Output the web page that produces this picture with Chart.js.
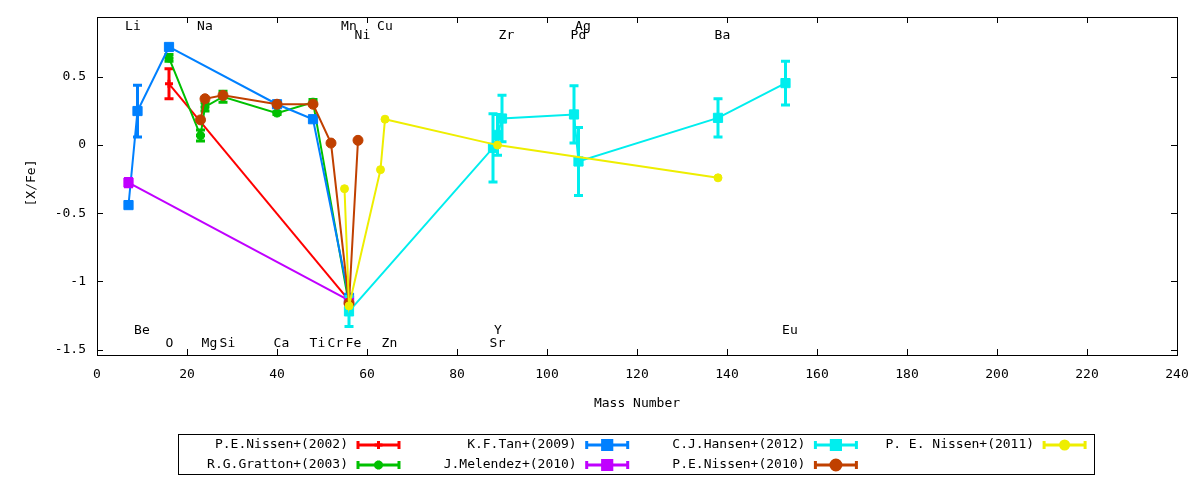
<!DOCTYPE html>
<html>
<head>
<meta charset="utf-8">
<script src="https://cdn.jsdelivr.net/npm/chart.js@4.4.1/dist/chart.umd.min.js"></script>
<style>html,body{margin:0;padding:0;background:#fff;}canvas{display:block;}</style>
</head>
<body>
<canvas id="c" width="1200" height="480"></canvas>
<script>
// ---------- axis ticks ----------
const xTickValues = [0, 20, 40, 60, 80, 100, 120, 140, 160, 180, 200, 220, 240];
const yTickValues = [-1.5, -1, -0.5, 0, 0.5];

// ---------- series (mass number, [X/Fe], error) ----------
const nissen2002Mass = [16, 56];
const nissen2002Val  = [0.45, -1.14];
const nissen2002Err  = [0.11, 0];

const gratton2003Mass = [16, 23, 24, 28, 40, 48, 56];
const gratton2003Val  = [0.64, 0.07, 0.28, 0.355, 0.235, 0.315, -1.17];
const gratton2003Err  = [0.025, 0.04, 0.03, 0.04, 0.01, 0.02, 0.02];

const tan2009Mass = [7, 9, 16, 40, 48, 56];
const tan2009Val  = [-0.44, 0.25, 0.72, 0.30, 0.19, -1.12];
const tan2009Err  = [0, 0.19, 0, 0, 0, 0];

const melendez2010Mass = [7, 56];
const melendez2010Val  = [-0.275, -1.14];
const melendez2010Err  = [0.03, 0];

const hansen2012Mass = [56, 88, 89, 90, 106, 107, 138, 153];
const hansen2012Val  = [-1.22, -0.02, 0.075, 0.195, 0.225, -0.12, 0.20, 0.455];
const hansen2012Err  = [0.11, 0.25, 0.15, 0.17, 0.21, 0.25, 0.14, 0.16];

const nissen2010Mass = [23, 24, 28, 40, 48, 52, 56, 58];
const nissen2010Val  = [0.185, 0.34, 0.365, 0.30, 0.30, 0.015, -1.16, 0.035];
const nissen2010Err  = [0, 0, 0, 0, 0, 0, 0, 0];

const nissen2011Mass = [55, 56, 63, 64, 89, 138];
const nissen2011Val  = [-0.32, -1.18, -0.18, 0.19, 0.0, -0.24];
const nissen2011Err  = [0, 0, 0, 0, 0, 0];

// ---------- element annotations ----------
const elementNames = ['Li','Na','Mn','Ni','Cu','Zr','Pd','Ag','Ba','Be','O','Mg','Si','Ca','Ti','Cr','Fe','Zn','Sr','Y','Eu'];
const elementMass  = [7, 23, 55, 58, 63, 90, 106, 107, 138, 9, 16, 24, 28, 40, 48, 52, 56, 64, 88, 89, 153];
const elementLevel = [0.87, 0.87, 0.87, 0.80, 0.87, 0.80, 0.80, 0.87, 0.80, -1.36, -1.46, -1.46, -1.46, -1.46, -1.46, -1.46, -1.46, -1.46, -1.46, -1.36, -1.36];

const FONT = '"DejaVu Sans Mono", "Liberation Mono", monospace';

function series(label, mass, val, err, color, style, radius, bw) {
  return {
    label: label,
    data: mass.map((m, i) => ({x: m, y: val[i]})),
    errors: err,
    borderColor: color,
    backgroundColor: color,
    pointBackgroundColor: color,
    pointBorderColor: color,
    pointStyle: style,
    pointRadius: radius,
    pointBorderWidth: bw,
    pointHoverRadius: radius,
    borderWidth: 2,
    showLine: true,
    fill: false,
    tension: 0
  };
}

const datasets = [
  series('P.E.Nissen+(2002)', nissen2002Mass, nissen2002Val, nissen2002Err, '#ff0000', 'cross', 4, 3),
  series('R.G.Gratton+(2003)', gratton2003Mass, gratton2003Val, gratton2003Err, '#00c000', 'star', 4.5, 3),
  series('K.F.Tan+(2009)', tan2009Mass, tan2009Val, tan2009Err, '#0080ff', 'rect', 6.5, 1),
  series('J.Melendez+(2010)', melendez2010Mass, melendez2010Val, melendez2010Err, '#c000ff', 'rect', 6.5, 1),
  series('C.J.Hansen+(2012)', hansen2012Mass, hansen2012Val, hansen2012Err, '#00eeee', 'rect', 6.5, 1),
  series('P.E.Nissen+(2010)', nissen2010Mass, nissen2010Val, nissen2010Err, '#c04000', 'circle', 5, 1),
  series('P. E. Nissen+(2011)', nissen2011Mass, nissen2011Val, nissen2011Err, '#eeee00', 'circle', 4, 1)
];
datasets.forEach((d, i) => { d.order = -i; });

const whiteBg = {
  id: 'whiteBg',
  beforeDraw(chart) {
    const ctx = chart.ctx;
    ctx.save();
    ctx.fillStyle = '#fff';
    ctx.fillRect(0, 0, chart.width, chart.height);
    ctx.restore();
  }
};

const errorBars = {
  id: 'errorBars',
  afterDatasetDraw(chart, args) {
    const ds = chart.data.datasets[args.index];
    if (!ds.errors) return;
    const ctx = chart.ctx;
    const xs = chart.scales.x, ys = chart.scales.y;
    ctx.save();
    ctx.strokeStyle = ds.borderColor;
    ctx.lineWidth = 3;
    ctx.lineCap = 'butt';
    ds.data.forEach((p, i) => {
      const e = ds.errors[i];
      if (!e) return;
      const px = xs.getPixelForValue(p.x);
      const yt = ys.getPixelForValue(p.y + e);
      const yb = ys.getPixelForValue(p.y - e);
      ctx.beginPath();
      ctx.moveTo(px, yt); ctx.lineTo(px, yb);
      ctx.moveTo(px - 4.5, yt); ctx.lineTo(px + 4.5, yt);
      ctx.moveTo(px - 4.5, yb); ctx.lineTo(px + 4.5, yb);
      ctx.stroke();
    });
    ctx.restore();
  }
};

const frame = {
  id: 'frame',
  afterDraw(chart) {
    const ctx = chart.ctx, a = chart.chartArea;
    const xs = chart.scales.x, ys = chart.scales.y;
    ctx.save();
    ctx.strokeStyle = '#000';
    ctx.lineWidth = 1;
    ctx.strokeRect(Math.round(a.left) + 0.5, Math.round(a.top) + 0.5, Math.round(a.right - a.left), Math.round(a.bottom - a.top));
    ctx.beginPath();
    xTickValues.forEach(v => {
      const px = Math.round(xs.getPixelForValue(v)) + 0.5;
      ctx.moveTo(px, a.bottom); ctx.lineTo(px, a.bottom - 6);
      ctx.moveTo(px, a.top); ctx.lineTo(px, a.top + 6);
    });
    yTickValues.forEach(v => {
      const py = Math.round(ys.getPixelForValue(v)) + 0.5;
      ctx.moveTo(a.left, py); ctx.lineTo(a.left + 6, py);
      ctx.moveTo(a.right, py); ctx.lineTo(a.right - 6, py);
    });
    ctx.stroke();

    // element labels
    ctx.fillStyle = '#000';
    ctx.font = '13px ' + FONT;
    ctx.textAlign = 'left';
    ctx.textBaseline = 'middle';
    elementNames.forEach((n, i) => {
      ctx.fillText(n, xs.getPixelForValue(elementMass[i]) - 3.4, ys.getPixelForValue(elementLevel[i]));
    });

    // axis titles
    ctx.textAlign = 'center';
    ctx.fillText('Mass Number', (a.left + a.right) / 2, 404);
    ctx.save();
    ctx.translate(32, 183);
    ctx.rotate(-Math.PI / 2);
    ctx.fillText('[X/Fe]', 0, 0);
    ctx.restore();

    // legend
    const boxL = 178.5, boxT = 434.5, boxR = 1094.5, boxB = 474.5;
    ctx.lineWidth = 1;
    ctx.strokeStyle = '#000';
    ctx.strokeRect(boxL, boxT, boxR - boxL, boxB - boxT);
    chart.data.datasets.forEach((ds, i) => {
      const col = Math.floor(i / 2), row = i % 2;
      const base = 178 + col * 228.7;
      const y = 445 + row * 20;
      ctx.fillStyle = '#000';
      ctx.textAlign = 'right';
      ctx.fillText(ds.label, base + 170, y);
      const x1 = base + 180, x2 = base + 221;
      ctx.strokeStyle = ds.borderColor;
      ctx.lineWidth = 3;
      ctx.beginPath();
      ctx.moveTo(x1, y); ctx.lineTo(x2, y);
      ctx.moveTo(x1, y - 4); ctx.lineTo(x1, y + 4);
      ctx.moveTo(x2, y - 4); ctx.lineTo(x2, y + 4);
      ctx.stroke();
      ctx.fillStyle = ds.borderColor;
      Chart.helpers.drawPoint(ctx, {
        pointStyle: ds.pointStyle,
        radius: ds.pointRadius,
        borderWidth: ds.pointBorderWidth,
        rotation: 0
      }, (x1 + x2) / 2, y);
    });
    ctx.restore();
  }
};

new Chart(document.getElementById('c'), {
  type: 'scatter',
  data: { datasets: datasets },
  options: {
    responsive: false,
    animation: false,
    devicePixelRatio: 1,
    layout: { padding: { top: 17, right: 23, left: 0, bottom: 0 } },
    plugins: { legend: { display: false }, tooltip: { enabled: false } },
    scales: {
      x: {
        type: 'linear',
        min: 0, max: 240,
        afterBuildTicks: s => { s.ticks = xTickValues.map(v => ({value: v})); },
        afterFit: s => { s.height = 125; s.paddingLeft = 0; s.paddingRight = 0; },
        grid: { display: false, drawTicks: false },
        border: { display: false },
        ticks: { color: '#000', font: { family: FONT, size: 13 }, padding: 12, autoSkip: false, maxRotation: 0,
                 callback: v => String(v) }
      },
      y: {
        type: 'linear',
        min: -1.54, max: 0.94,
        afterBuildTicks: s => { s.ticks = yTickValues.map(v => ({value: v})); },
        afterFit: s => { s.width = 97; s.paddingTop = 0; s.paddingBottom = 0; },
        grid: { display: false, drawTicks: false },
        border: { display: false },
        ticks: { color: '#000', font: { family: FONT, size: 13 }, padding: 11,
                 callback: v => String(v) }
      }
    }
  },
  plugins: [whiteBg, errorBars, frame]
});
</script>
</body>
</html>
